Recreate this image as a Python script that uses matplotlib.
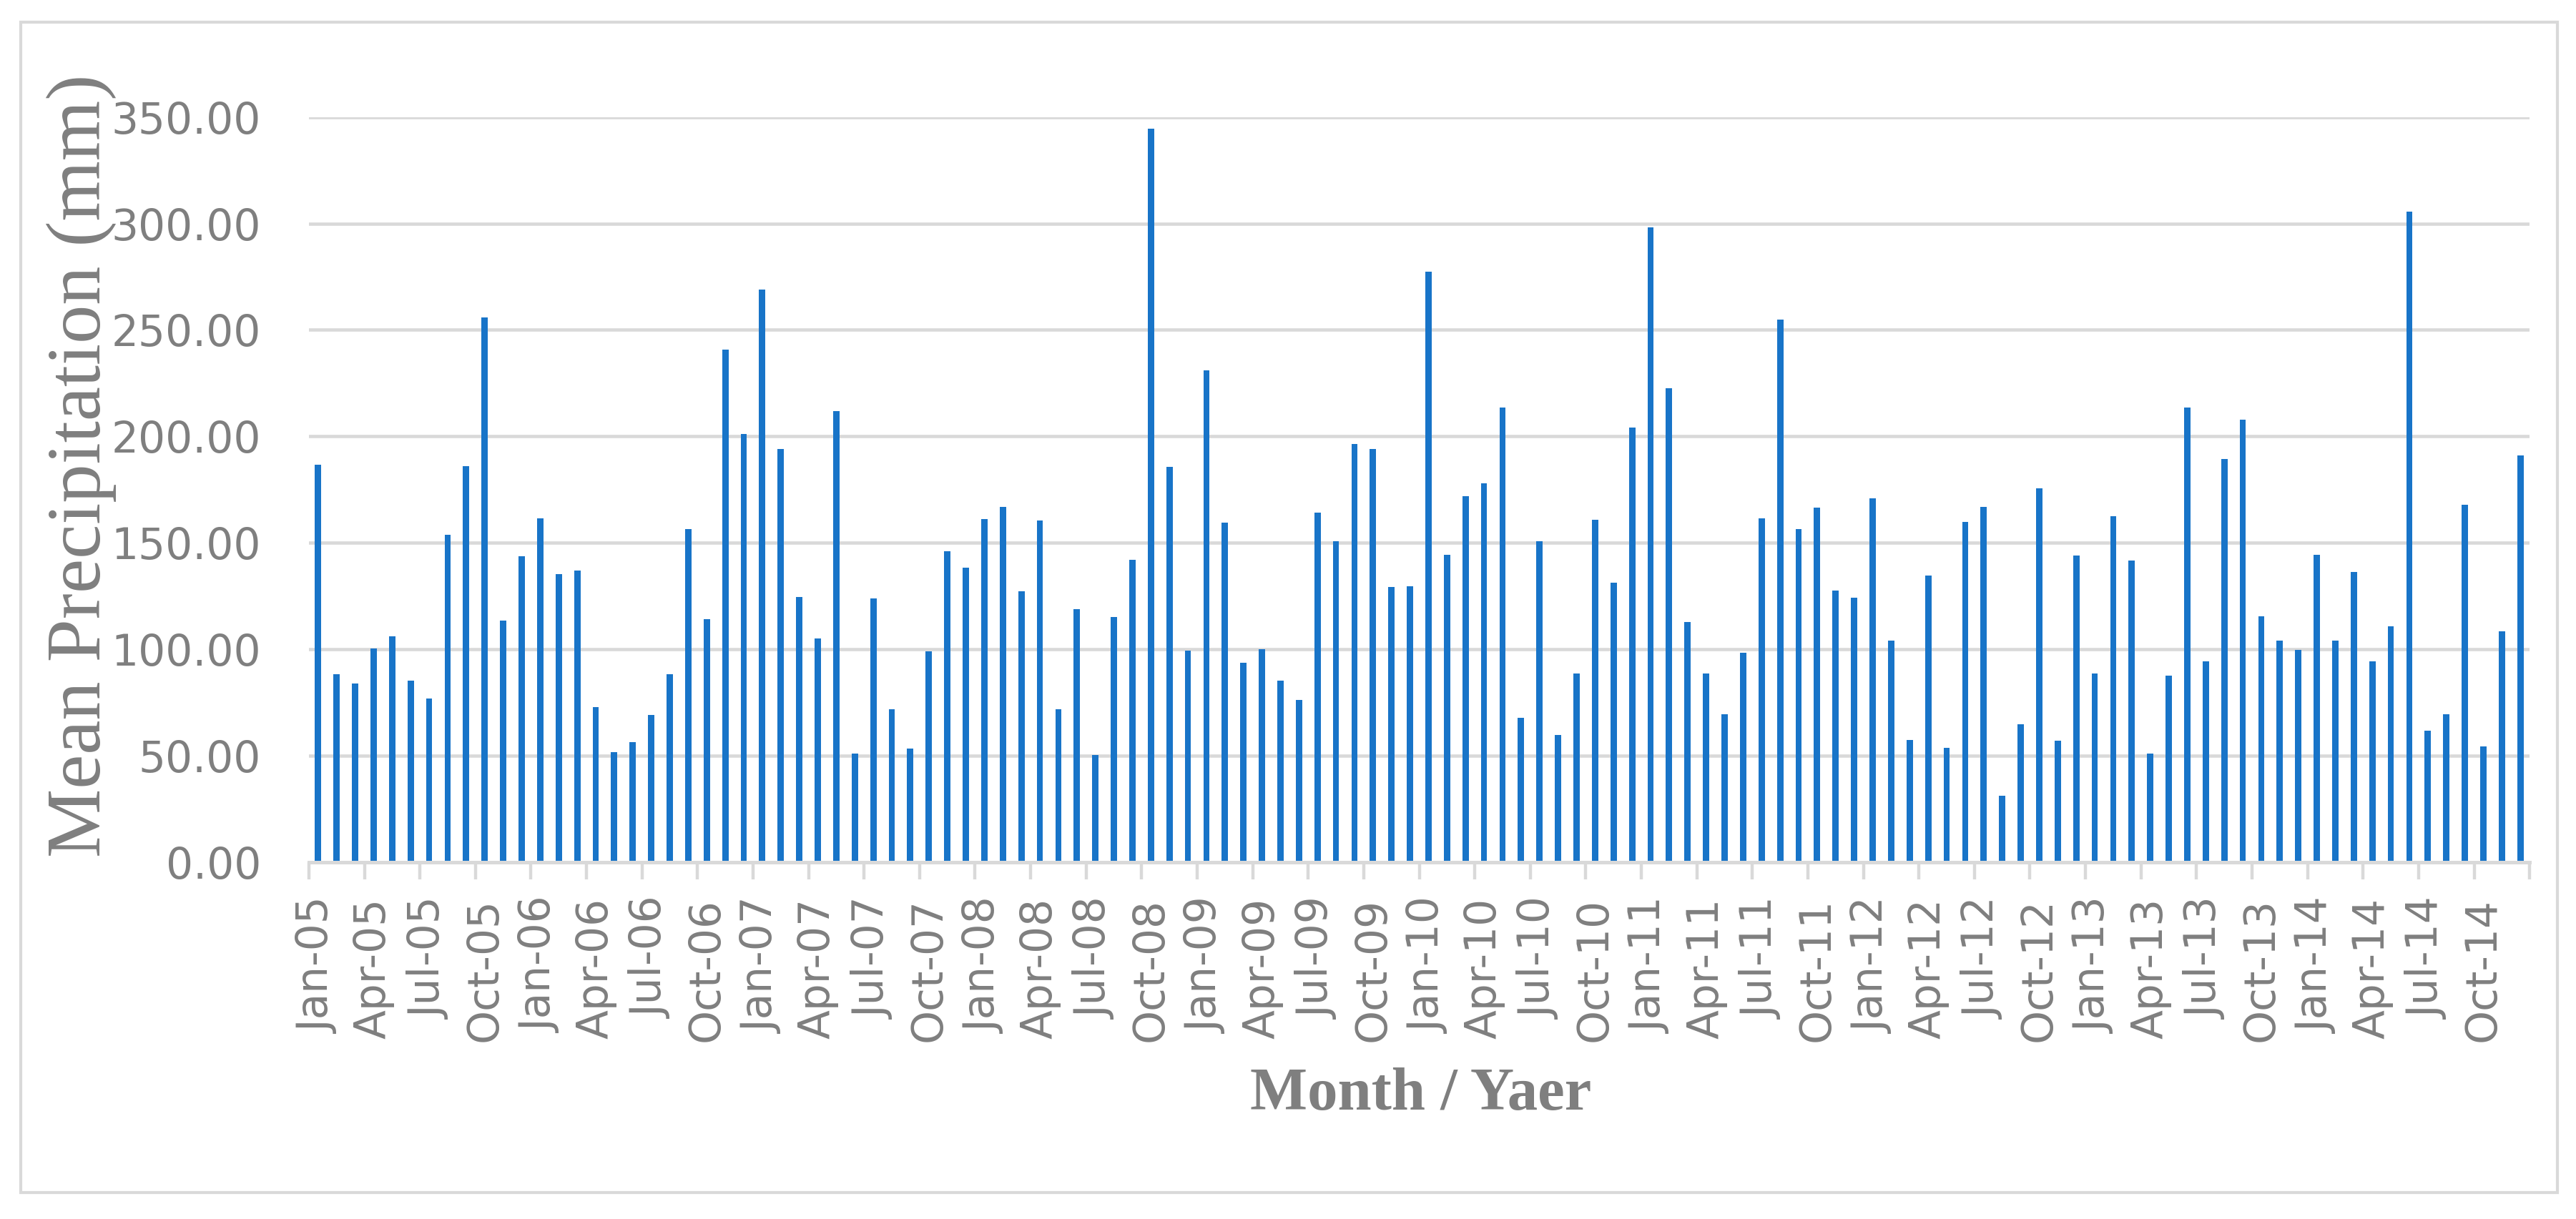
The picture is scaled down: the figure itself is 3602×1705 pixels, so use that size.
import numpy as np
import pandas as pd
import matplotlib
matplotlib.use("Agg")
import matplotlib.pyplot as plt
from matplotlib.patches import Rectangle

# monthly mean precipitation (mm), Jan-2005 .. Dec-2014
precip_2005 = [186.7, 88.2, 84.0, 100.4, 106.0, 85.4, 76.8, 153.6, 186.0, 255.8, 113.4, 143.6]
precip_2006 = [161.5, 135.4, 136.8, 72.8, 51.8, 56.3, 69.1, 88.2, 156.4, 114.1, 240.9, 201.2]
precip_2007 = [269.1, 194.0, 124.4, 105.0, 212.0, 50.9, 123.7, 71.7, 53.2, 99.0, 145.9, 138.2]
precip_2008 = [161.3, 166.7, 127.2, 160.4, 71.7, 118.7, 50.2, 115.1, 141.9, 344.5, 185.6, 99.2]
precip_2009 = [231.1, 159.4, 93.6, 100.1, 85.2, 76.3, 164.1, 150.6, 196.3, 194.2, 129.1, 129.6]
precip_2010 = [277.5, 144.3, 171.8, 177.9, 213.6, 67.9, 150.6, 59.8, 88.7, 160.8, 131.4, 204.0]
precip_2011 = [298.1, 222.7, 112.7, 88.5, 69.6, 98.3, 161.5, 254.7, 156.4, 166.4, 127.7, 124.2]
precip_2012 = [170.9, 103.9, 57.4, 134.7, 53.7, 159.7, 166.9, 31.0, 64.7, 175.5, 57.0, 144.0]
precip_2013 = [88.5, 162.5, 141.7, 51.1, 87.5, 213.4, 94.3, 189.5, 207.7, 115.5, 104.1, 99.7]
precip_2014 = [144.3, 103.9, 136.3, 94.3, 110.6, 305.6, 61.6, 69.6, 167.8, 54.4, 108.3, 190.9]

precip = (precip_2005 + precip_2006 + precip_2007 + precip_2008 + precip_2009 +
          precip_2010 + precip_2011 + precip_2012 + precip_2013 + precip_2014)
month_labels = list(pd.date_range("2005-01-01", periods=len(precip), freq="MS").strftime("%b-%y"))
y_ticks = [0, 50, 100, 150, 200, 250, 300, 350]

grey = "#7f7f7f"
light = "#d9d9d9"
bar_color = "#1874c8"

fig = plt.figure(figsize=(36.02, 17.05), dpi=100)
ax = fig.add_axes([0.1199, 0.2928, 0.8621, 0.6112])

x = np.arange(len(precip))
ax.bar(x, precip, width=0.34, color=bar_color, zorder=3)

ax.set_xlim(-0.5, len(precip) - 0.5)
ax.set_ylim(0, 350)

# y axis
ax.set_yticks(y_ticks)
ax.set_yticklabels([f"{v:.2f}" for v in y_ticks])
ax.tick_params(axis="y", length=0, pad=48, labelsize=43, labelcolor=grey)
ax.grid(axis="y", color=light, linewidth=3.3, zorder=0)

# x axis: labels every 3 months, tick marks on the category boundaries
ax.set_xticks(x[::3])
ax.set_xticklabels(month_labels[::3], rotation=90)
ax.tick_params(axis="x", which="major", length=0, pad=36, labelsize=43, labelcolor=grey)
ax.set_xticks(np.arange(-0.5, len(precip), 3), minor=True)
ax.tick_params(axis="x", which="minor", length=17, width=3.2, color=light)

for s in ["top", "right", "left"]:
    ax.spines[s].set_visible(False)
ax.spines["bottom"].set_color(light)
ax.spines["bottom"].set_linewidth(3.6)
ax.spines["bottom"].set_zorder(4)

fig.text(0.0315, 0.618, "Mean Precipitation (mm)", rotation=90, ha="center", va="center",
         fontsize=78, color=grey, family="Liberation Serif")
fig.text(0.5516, 0.1015, "Month / Yaer", ha="center", va="center",
         fontsize=61, color=grey, family="Liberation Serif", fontweight="bold")

# chart area border
fig.patches.append(Rectangle((0.00805, 0.0217), 0.9847, 0.9601, transform=fig.transFigure,
                             fill=False, edgecolor=light, linewidth=3))

fig.savefig("out.png", dpi=100)
